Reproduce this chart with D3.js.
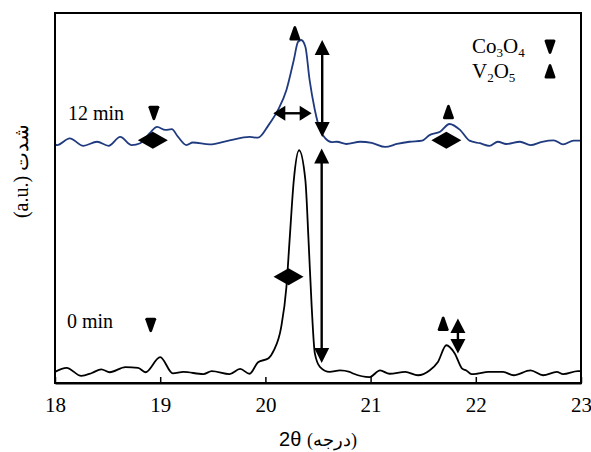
<!DOCTYPE html>
<html>
<head>
<meta charset="utf-8">
<script src="https://cdn.jsdelivr.net/npm/d3@7/dist/d3.min.js"></script>
<style>
  body { margin: 0; background: #fff; }
  svg { display: block; }
  text { font-family: "Liberation Serif", "Times New Roman", serif; fill: #000; }
</style>
</head>
<body>
<div id="chart"></div>
<script>
// 2theta (deg) and intensity (a.u.)
var theta0 = [18.00,18.11,18.25,18.35,18.44,18.52,18.67,18.79,18.86,19.00,19.12,19.22,19.41,19.49,19.66,19.76,19.85,19.93,20.03,20.08,20.15,20.20,20.23,20.27,20.32,20.38,20.41,20.44,20.47,20.52,20.61,20.71,20.80,20.84,20.99,21.09,21.18,21.33,21.45,21.56,21.64,21.72,21.80,21.87,21.91,21.96,22.01,22.12,22.26,22.36,22.52,22.64,22.77,22.83,22.97,23.00];
var int0   = [30,41,19,27,37,29,43,41,29,70,26,30,24,32,24,38,25,56,67,88,151,260,386,548,629,548,386,206,80,43,30,34,30,25,16,34,25,30,21,34,57,102,80,39,34,24,25,30,30,21,34,21,30,24,32,32];

var theta12 = [18.00,18.02,18.14,18.27,18.40,18.51,18.62,18.73,18.81,18.90,18.97,19.05,19.11,19.17,19.25,19.31,19.47,19.66,19.85,19.93,20.03,20.12,20.20,20.27,20.31,20.34,20.38,20.42,20.47,20.52,20.57,20.63,20.68,20.77,20.90,21.01,21.14,21.25,21.37,21.49,21.56,21.66,21.75,21.85,21.94,22.04,22.13,22.21,22.29,22.42,22.52,22.63,22.74,22.83,22.93,23.00];
var int12   = [645,643,661,641,652,641,665,643,648,675,692,684,686,665,643,650,645,656,665,663,697,738,792,873,922,927,909,819,738,684,661,651,652,646,652,649,638,646,652,655,670,679,700,684,655,648,641,652,646,652,643,652,656,645,655,655];

var xTicks = [18, 19, 20, 21, 22, 23];

// phase markers [2theta, intensity]
var co3o4Marks = [[18.94, 729], [18.91, 156]];
var v2o5Marks  = [[20.28, 946], [21.74, 733], [21.69, 161]];
// peak-width markers (diamonds) [2theta, intensity]
var diamonds = [[18.93, 656], [20.22, 287], [21.72, 656]];
// horizontal double arrow [x1, x2, y]
var hArrows = [[20.075, 20.44, 729]];
// vertical double arrows [x, yTop, yBottom]
var vArrows = [[20.54, 927, 665], [20.535, 634, 54], [21.83, 174, 80]];

var W = 591, H = 452;
var margin = {left: 55, right: 10, top: 13, bottom: 69};

var svg = d3.select('#chart').append('svg')
    .attr('width', W)
    .attr('height', H);

var x = d3.scaleLinear().domain([18, 23]).range([margin.left, W - margin.right]);
var y = d3.scaleLinear().domain([0, 1000]).range([H - margin.bottom, margin.top]);

// curves
var line = d3.line()
    .x(d => x(d[0]))
    .y(d => y(d[1]))
    .curve(d3.curveMonotoneX);

svg.append('path')
    .datum(d3.zip(theta0, int0))
    .attr('d', line)
    .attr('fill', 'none')
    .attr('stroke', '#000')
    .attr('stroke-width', 1.8);

svg.append('path')
    .datum(d3.zip(theta12, int12))
    .attr('d', line)
    .attr('fill', 'none')
    .attr('stroke', '#1f3a7e')
    .attr('stroke-width', 1.8);

// frame
svg.append('rect')
    .attr('x', x(18)).attr('y', y(1000))
    .attr('width', x(23) - x(18)).attr('height', y(0) - y(1000))
    .attr('fill', 'none')
    .attr('stroke', '#000')
    .attr('stroke-width', 2);

// x axis, ticks pointing inward
var xAxis = d3.axisBottom(x)
    .tickValues(xTicks)
    .tickFormat(d3.format('d'))
    .tickSizeInner(-6).tickSizeOuter(0).tickPadding(14);
var gx = svg.append('g')
    .attr('transform', 'translate(0,' + y(0) + ')')
    .call(xAxis)
    .attr('font-size', 21);
gx.select('.domain').attr('stroke-width', 2);
gx.selectAll('.tick line').attr('stroke-width', 1.5);
gx.selectAll('.tick text').style('font-family', '"Liberation Serif", serif');

// axis titles
var xt = svg.append('text')
    .attr('x', 318).attr('y', 446)
    .attr('text-anchor', 'middle')
    .style('direction', 'ltr');
xt.append('tspan').text('2θ ').style('font-family', '"Liberation Sans", Arial, sans-serif').style('font-size', '20px');
xt.append('tspan').text('(درجه)').style('font-size', '18px');

svg.append('text')
    .attr('transform', 'translate(28,171) rotate(-90)')
    .attr('text-anchor', 'middle')
    .style('font-size', '20px')
    .style('direction', 'ltr')
    .text('(a.u.) شدت');

// time labels
svg.append('text').attr('x', 68).attr('y', 120).style('font-size', '20px').text('12 min');
svg.append('text').attr('x', 67).attr('y', 328).style('font-size', '20px').text('0 min');

// marker shapes
var downMark = 'M-5.5,-6Q-5.5,-7.5 -4,-7.5L4,-7.5Q5.5,-7.5 5.5,-6L1.3,6Q0,8 -1.3,6Z';
var upMark = 'M-5.5,6Q-5.5,7.5 -4,7.5L4,7.5Q5.5,7.5 5.5,6L1.3,-6Q0,-8 -1.3,-6Z';

svg.selectAll('.co3o4')
    .data(co3o4Marks)
    .enter().append('path')
    .attr('class', 'co3o4')
    .attr('transform', d => 'translate(' + x(d[0]) + ',' + y(d[1]) + ')')
    .attr('d', downMark);

svg.selectAll('.v2o5')
    .data(v2o5Marks)
    .enter().append('path')
    .attr('class', 'v2o5')
    .attr('transform', d => 'translate(' + x(d[0]) + ',' + y(d[1]) + ')')
    .attr('d', upMark);

svg.selectAll('.diamond')
    .data(diamonds)
    .enter().append('path')
    .attr('class', 'diamond')
    .attr('transform', d => 'translate(' + x(d[0]) + ',' + y(d[1]) + ')')
    .attr('d', 'M-15,0L0,-8.5L15,0L0,8.5Z');

// double arrows
hArrows.forEach(a => {
    var x1 = x(a[0]), x2 = x(a[1]), yy = y(a[2]);
    svg.append('line')
        .attr('x1', x1 + 4).attr('x2', x2 - 4).attr('y1', yy).attr('y2', yy)
        .attr('stroke', '#000').attr('stroke-width', 2.4);
    svg.append('path').attr('d', 'M' + x1 + ',' + yy + 'l12,-7.5l0,15Z');
    svg.append('path').attr('d', 'M' + x2 + ',' + yy + 'l-12,-7.5l0,15Z');
});

vArrows.forEach(a => {
    var xx = x(a[0]), y1 = y(a[1]), y2 = y(a[2]);
    var hl = Math.min(15, (y2 - y1) / 2.4);
    svg.append('line')
        .attr('x1', xx).attr('x2', xx).attr('y1', y1 + 4).attr('y2', y2 - 4)
        .attr('stroke', '#000').attr('stroke-width', 2.4);
    svg.append('path').attr('d', 'M' + xx + ',' + y1 + 'l-7.5,' + hl + 'l15,0Z');
    svg.append('path').attr('d', 'M' + xx + ',' + y2 + 'l-7.5,' + (-hl) + 'l15,0Z');
});

// legend
var legend = svg.append('g');
var t1 = legend.append('text').attr('x', 472).attr('y', 53).style('font-size', '21px');
t1.append('tspan').text('Co');
t1.append('tspan').text('3').attr('dy', 4).style('font-size', '13px');
t1.append('tspan').text('O').attr('dy', -4);
t1.append('tspan').text('4').attr('dy', 4).style('font-size', '13px');
var t2 = legend.append('text').attr('x', 472).attr('y', 78).style('font-size', '21px');
t2.append('tspan').text('V');
t2.append('tspan').text('2').attr('dy', 4).style('font-size', '13px');
t2.append('tspan').text('O').attr('dy', -4);
t2.append('tspan').text('5').attr('dy', 4).style('font-size', '13px');
legend.append('path').attr('transform', 'translate(550,47)').attr('d', downMark);
legend.append('path').attr('transform', 'translate(550,71)').attr('d', upMark);
</script>
</body>
</html>
